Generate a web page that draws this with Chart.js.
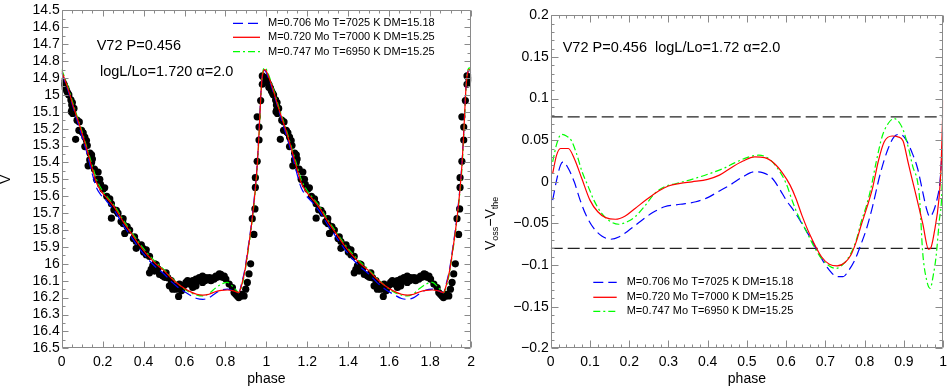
<!DOCTYPE html>
<html><head><meta charset="utf-8">
<script src="https://cdn.jsdelivr.net/npm/chart.js@4.4.1/dist/chart.umd.min.js"></script>
<style>
html,body{margin:0;padding:0;background:#fff;overflow:hidden}
#wrap{position:relative;width:952px;height:388px;background:#fff}
canvas{position:absolute;top:0}
#c1{left:0}#c2{left:480px}
</style></head><body>
<div id="wrap"><canvas id="c1" width="480" height="388"></canvas><canvas id="c2" width="472" height="388"></canvas></div>
<script>
// ---------------- data ----------------
const seriesLabels = ['M=0.706 Mo T=7025 K DM=15.18','M=0.720 Mo T=7000 K DM=15.25','M=0.747 Mo T=6950 K DM=15.25'];

// observed points (one cycle, plotted twice: phase and phase+1)
const obsPhase = [0.003,0.008,0.013,0.012,0.020,0.024,0.030,0.045,0.052,0.049,0.050,0.054,0.047,0.068,0.086,0.084,0.097,0.105,0.113,0.121,
0.113,0.125,0.138,0.146,0.150,0.146,0.129,0.140,0.137,0.178,0.170,0.186,0.202,0.210,0.235,0.243,0.267,0.243,0.275,0.300,
0.300,0.308,0.332,0.356,0.364,0.364,0.397,0.413,0.389,0.429,0.462,0.437,0.413,0.445,0.429,0.453,0.478,0.494,0.510,0.518,
0.526,0.535,0.542,0.559,0.575,0.571,0.591,0.607,0.615,0.623,0.640,0.656,0.672,0.688,0.704,0.721,0.729,0.745,0.688,0.656,
0.640,0.753,0.777,0.794,0.802,0.818,0.834,0.842,0.858,0.875,0.891,0.899,0.907,0.915,0.923,0.939,0.931,0.944,0.946,0.946,
0.955,0.964,0.964,0.955,0.972,0.980,0.980,0.996,0.990,0.660,0.680,0.700,0.712,0.735,0.760,0.770,0.785,0.630,0.600,0.585,
0.550,0.503,0.470,0.455,0.400,0.380,0.350,0.320,0.290,0.255,0.220,0.190,0.160,0.100,0.075,0.060,0.035,0.850,0.865,0.880];
const obsV = [14.92,14.93,14.94,14.955,14.96,14.975,14.99,15.03,15.045,15.06,15.09,15.11,15.10,15.263,15.16,15.21,15.21,15.225,15.25,15.27,
15.306,15.30,15.345,15.355,15.38,15.40,15.42,15.41,15.385,15.457,15.50,15.50,15.558,15.55,15.616,15.645,15.684,15.73,15.70,15.733,
15.762,15.82,15.80,15.84,15.868,15.908,15.908,15.917,15.888,15.956,16.004,16.033,15.946,16.01,16.053,16.043,16.063,16.072,16.053,16.082,
16.13,16.10,16.15,16.15,16.12,16.193,16.14,16.11,16.10,16.12,16.10,16.09,16.082,16.072,16.082,16.082,16.10,16.09,16.11,16.13,
16.14,16.072,16.063,16.072,16.09,16.12,16.14,16.17,16.19,16.19,16.19,16.15,16.11,16.06,16.0,15.826,15.733,15.675,15.548,15.49,
15.393,15.267,15.19,15.13,15.034,14.937,14.888,14.898,14.91,16.105,16.095,16.10,16.09,16.085,16.08,16.06,16.08,16.11,16.125,16.16,
16.13,16.08,16.03,16.0,15.93,15.89,15.85,15.78,15.75,15.68,15.60,15.53,15.44,15.22,15.15,15.08,15.0,16.18,16.2,16.18];

// model light curves (one cycle)
const modelPhase = [0,0.03,0.06,0.09,0.12,0.15,0.17,0.19,0.22,0.26,0.30,0.34,0.38,0.42,0.46,0.50,0.54,0.58,0.62,0.66,
0.69,0.72,0.75,0.78,0.81,0.84,0.865,0.88,0.895,0.91,0.925,0.94,0.955,0.965,0.972,0.978,0.985,0.992,1.0];
const modelV706 = [14.87,14.97,15.09,15.21,15.33,15.47,15.55,15.59,15.63,15.69,15.77,15.84,15.91,15.97,16.02,16.06,16.11,16.15,16.18,16.205,
16.21,16.20,16.175,16.155,16.15,16.16,16.17,16.11,16.03,15.91,15.78,15.62,15.41,15.19,15.01,14.90,14.86,14.855,14.87];
const modelV720 = [14.86,14.96,15.08,15.19,15.31,15.44,15.52,15.565,15.61,15.67,15.75,15.82,15.89,15.95,16.00,16.04,16.09,16.13,16.16,16.18,
16.185,16.18,16.165,16.157,16.155,16.16,16.17,16.12,16.04,15.92,15.79,15.63,15.42,15.20,15.02,14.91,14.86,14.85,14.86];
const modelV747 = [14.85,14.95,15.07,15.18,15.30,15.42,15.50,15.55,15.60,15.66,15.74,15.81,15.88,15.94,15.99,16.035,16.085,16.13,16.165,16.185,
16.19,16.175,16.145,16.12,16.11,16.14,16.17,16.13,16.05,15.93,15.80,15.64,15.44,15.22,15.03,14.91,14.85,14.84,14.85];

// residuals V_oss - V_the
const resPhase706 = [0.005,0.015,0.025,0.032,0.045,0.06,0.075,0.09,0.11,0.13,0.153,0.175,0.2,0.23,0.26,0.29,0.33,0.37,0.40,0.43,
0.46,0.49,0.52,0.54,0.565,0.585,0.6,0.62,0.64,0.66,0.69,0.71,0.73,0.745,0.76,0.775,0.79,0.805,0.82,0.84,
0.86,0.875,0.89,0.905,0.92,0.935,0.948,0.958,0.966,0.975,0.985,0.992,1.0];
const res706 = [-0.022,0.002,0.020,0.024,0.016,0.0,-0.022,-0.04,-0.056,-0.065,-0.069,-0.066,-0.058,-0.047,-0.037,-0.030,-0.027,-0.024,-0.019,-0.011,
-0.003,0.006,0.012,0.011,0.004,-0.01,-0.022,-0.035,-0.05,-0.066,-0.092,-0.106,-0.114,-0.114,-0.106,-0.094,-0.076,-0.056,-0.03,0.01,
0.04,0.054,0.057,0.051,0.036,0.016,-0.012,-0.033,-0.042,-0.036,-0.02,0.0,0.06];
const resPhase720 = [0.005,0.015,0.025,0.045,0.06,0.08,0.10,0.12,0.14,0.165,0.19,0.215,0.245,0.275,0.30,0.33,0.36,0.40,0.43,0.46,
0.49,0.52,0.545,0.57,0.59,0.61,0.625,0.64,0.66,0.69,0.71,0.73,0.75,0.765,0.78,0.79,0.805,0.82,0.835,0.85,
0.87,0.885,0.898,0.91,0.92,0.932,0.948,0.963,0.968,0.977,0.99,0.995,1.0];
const res720 = [0.010,0.032,0.040,0.040,0.028,0.003,-0.022,-0.036,-0.043,-0.045,-0.041,-0.032,-0.021,-0.011,-0.005,-0.002,0.0,0.003,0.008,0.017,
0.025,0.030,0.029,0.022,0.011,-0.004,-0.02,-0.04,-0.063,-0.09,-0.099,-0.101,-0.097,-0.088,-0.07,-0.054,-0.032,-0.008,0.025,0.048,
0.055,0.054,0.049,0.025,0.005,-0.018,-0.05,-0.081,-0.08,-0.062,-0.018,0.02,0.098];
const resPhase747 = [0.005,0.015,0.027,0.04,0.052,0.065,0.08,0.095,0.11,0.13,0.15,0.173,0.195,0.215,0.24,0.265,0.29,0.32,0.36,0.40,
0.44,0.47,0.50,0.53,0.555,0.58,0.6,0.615,0.63,0.648,0.67,0.69,0.71,0.727,0.745,0.765,0.78,0.79,0.805,0.815,
0.83,0.845,0.86,0.875,0.89,0.9,0.912,0.923,0.935,0.94,0.948,0.958,0.967,0.975,0.982,0.99,0.997,1.0];
const res747 = [0.024,0.045,0.057,0.055,0.05,0.035,0.012,-0.005,-0.022,-0.038,-0.047,-0.051,-0.048,-0.042,-0.029,-0.014,-0.006,-0.002,0.003,0.009,
0.016,0.023,0.029,0.032,0.028,0.015,-0.002,-0.022,-0.04,-0.056,-0.077,-0.092,-0.101,-0.104,-0.099,-0.086,-0.068,-0.05,-0.028,-0.01,
0.025,0.055,0.07,0.076,0.07,0.06,0.04,0.018,0.0,-0.02,-0.085,-0.118,-0.128,-0.112,-0.09,-0.048,-0.01,0.05];

// error band levels (dashed horizontal lines)
const bandLevels = [0.078, -0.080];

// ---------------- helpers ----------------
const FONT = "'Liberation Sans', Arial, Helvetica, sans-serif";
const COLORS = ['#0000ff','#ff0000','#00ff00'];
const DASHES = [[10,5],[],[7,3,2,3]];
const pts = (xs, ys, shift=0) => xs.map((x,i)=>({x:x+shift, y:ys[i]}));
const twoCycles = (xs, ys) => pts(xs, ys, 0).concat(pts(xs.slice(1), ys.slice(1), 1));
const fmt = v => String(+(+v).toFixed(3));
const fmtSigned = v => { const r = Math.round(v*1000)/1000; if (r === 0) return '0'; return (r < 0 ? '\u2212' : '') + String(Math.abs(r)); };

const framePlugin = {
  id: 'frameTicks',
  afterDatasetsDraw(chart, args, o) {
    const {ctx, chartArea: a} = chart;
    const xs = chart.scales.x, ys = chart.scales.y;
    const L = Math.round(a.left) + 0.5, R = Math.round(a.right) - 0.5, T = Math.round(a.top) + 0.5, B = Math.round(a.bottom) - 0.5;
    ctx.save();
    ctx.strokeStyle = o.color; ctx.lineWidth = 1; ctx.setLineDash([]);
    ctx.beginPath();
    ctx.rect(L, T, R - L, B - T);
    const draw = (scale, minor, major, lmin, lmaj, horiz) => {
      const n = Math.round((scale.max - scale.min) / minor);
      for (let i = 0; i <= n; i++) {
        const v = scale.min + i * minor;
        const q = v / major;
        const isMaj = Math.abs(q - Math.round(q)) < 1e-6;
        const len = isMaj ? lmaj : lmin;
        const p = Math.round(scale.getPixelForValue(v)) + 0.5;
        if (horiz) { ctx.moveTo(p, B); ctx.lineTo(p, B - len); ctx.moveTo(p, T); ctx.lineTo(p, T + len); }
        else { ctx.moveTo(L, p); ctx.lineTo(L + len, p); ctx.moveTo(R, p); ctx.lineTo(R - len, p); }
      }
    };
    draw(xs, o.xMinor, o.xMajor, o.minLen, o.majLen, true);
    draw(ys, o.yMinor, o.yMajor, o.minLen, o.majLen, false);
    ctx.stroke();
    ctx.restore();
  }
};

const legendPlugin = {
  id: 'inLegend',
  afterDraw(chart, args, o) {
    const ctx = chart.ctx;
    ctx.save();
    ctx.font = o.size + 'px ' + FONT;
    ctx.textBaseline = 'middle'; ctx.textAlign = 'left'; ctx.fillStyle = '#000';
    o.items.forEach((idx, k) => {
      const ds = chart.data.datasets[idx];
      const y = o.rows[k];
      ctx.strokeStyle = ds.borderColor; ctx.lineWidth = 1.3; ctx.setLineDash(ds.borderDash || []);
      ctx.beginPath(); ctx.moveTo(o.x0, y); ctx.lineTo(o.x1, y); ctx.stroke();
      ctx.fillText(ds.label, o.tx, y);
    });
    ctx.restore();
  }
};

const textPlugin = {
  id: 'notes',
  afterDraw(chart, args, o) {
    const ctx = chart.ctx;
    ctx.save();
    ctx.fillStyle = '#000'; ctx.textBaseline = 'middle'; ctx.textAlign = 'left';
    (o.items || []).forEach(t => { ctx.font = t.size + 'px ' + FONT; ctx.fillText(t.text, t.x, t.y); });
    if (o.ylab) {
      const g = o.ylab;
      ctx.translate(g.x, g.y); ctx.rotate(-Math.PI / 2);
      ctx.textBaseline = 'alphabetic';
      let x = 0;
      g.parts.forEach(p => {
        ctx.font = p.size + 'px ' + FONT;
        ctx.fillText(p.t, x, p.dy);
        x += ctx.measureText(p.t).width;
      });
    }
    ctx.restore();
  }
};

const tickFont = {family: FONT, size: 14};

function baseScales(xmin, xmax, xstep, ymin, ymax, ystep, yrev, yfmt, yWidth, xHeight) {
  return {
    x: {type: 'linear', min: xmin, max: xmax,
        grid: {display: false, drawTicks: false}, border: {display: false},
        ticks: {stepSize: xstep, autoSkip: false, maxRotation: 0, color: '#000', font: tickFont, padding: 5, callback: fmt},
        title: {display: true, text: 'phase', color: '#000', font: {family: FONT, size: 14}, padding: {top: 0, bottom: 0}},
        afterFit: s => { s.height = xHeight; }},
    y: {type: 'linear', min: ymin, max: ymax, reverse: yrev,
        grid: {display: false, drawTicks: false}, border: {display: false},
        ticks: {stepSize: ystep, autoSkip: false, color: '#000', font: tickFont, padding: 2, callback: yfmt},
        afterFit: s => { s.width = yWidth; }}
  };
}

function lineDs(label, data, i, extra) {
  return Object.assign({type: 'line', label, data, borderColor: COLORS[i], borderDash: DASHES[i], borderWidth: 1.2,
    pointRadius: 0, fill: false, cubicInterpolationMode: 'monotone'}, extra || {});
}

// ---------------- left chart ----------------
new Chart(document.getElementById('c1'), {
  type: 'scatter',
  data: {datasets: [
    lineDs(seriesLabels[1], twoCycles(modelPhase, modelV720), 1),
    lineDs(seriesLabels[2], twoCycles(modelPhase, modelV747), 2),
    lineDs(seriesLabels[0], twoCycles(modelPhase, modelV706), 0),
    {type: 'scatter', label: 'obs', data: pts(obsPhase, obsV, 0).concat(pts(obsPhase, obsV, 1)),
     pointRadius: 3.6, pointBackgroundColor: '#000', pointBorderWidth: 0, showLine: false}
  ]},
  options: {
    responsive: false, animation: false, events: [],
    layout: {padding: {left: 0, right: 6.7, top: 5, bottom: 0}},
    scales: (() => { const s = baseScales(0, 2, 0.2, 14.5, 16.5, 0.1, true, fmt, 61.7, 39.7);
      s.y.title = {display: true, text: 'V', color: '#000', font: {family: FONT, size: 14}, padding: {top: -2, bottom: 0}}; return s; })(),
    plugins: {
      legend: {display: false}, tooltip: {enabled: false},
      frameTicks: {color: '#8a8a8a', xMinor: 0.05, xMajor: 0.2, yMinor: 0.05, yMajor: 0.1, minLen: 3, majLen: 6},
      inLegend: {items: [2, 0, 1], rows: [23.3, 37.3, 51.7], x0: 233, x1: 260, tx: 268, size: 11},
      notes: {items: [
        {text: 'V72 P=0.456', x: 96.7, y: 45.7, size: 14.5},
        {text: 'logL/Lo=1.720 \u03b1=2.0', x: 100, y: 71.7, size: 14.5}
      ]}
    }
  },
  plugins: [framePlugin, legendPlugin, textPlugin]
});

// ---------------- right chart ----------------
const bandDs = bandLevels.map(b => ({type: 'line', label: 'band', data: [{x: 0, y: b}, {x: 1, y: b}],
  borderColor: '#222', borderDash: [12, 5], borderWidth: 1.2, pointRadius: 0, fill: false}));
new Chart(document.getElementById('c2'), {
  type: 'scatter',
  data: {datasets: [
    lineDs(seriesLabels[1], pts(resPhase720, res720), 1),
    lineDs(seriesLabels[2], pts(resPhase747, res747), 2),
    lineDs(seriesLabels[0], pts(resPhase706, res706), 0),
    bandDs[0], bandDs[1]
  ]},
  options: {
    responsive: false, animation: false, events: [],
    layout: {padding: {left: 0, right: 1.3, top: 15.3, bottom: 0}},
    scales: baseScales(0, 1, 0.1, -0.2, 0.2, 0.05, false, fmtSigned, 70.7, 39.7),
    plugins: {
      legend: {display: false}, tooltip: {enabled: false},
      frameTicks: {color: '#8a8a8a', xMinor: 0.02, xMajor: 0.1, yMinor: 0.01, yMajor: 0.05, minLen: 3, majLen: 7},
      inLegend: {items: [2, 0, 1], rows: [282.3, 297.3, 311.3], x0: 113.3, x1: 136.7, tx: 146.7, size: 11},
      notes: {items: [
        {text: 'V72 P=0.456  logL/Lo=1.72 \u03b1=2.0', x: 82.7, y: 48.3, size: 14.5}
      ],
      ylab: {x: 15, y: 250, parts: [
        {t: 'V', size: 14, dy: 0}, {t: 'oss', size: 9, dy: 3}, {t: '\u2212', size: 14, dy: 0},
        {t: 'V', size: 14, dy: 0}, {t: 'the', size: 9, dy: 3}
      ]}}
    }
  },
  plugins: [framePlugin, legendPlugin, textPlugin]
});
</script>
</body></html>
